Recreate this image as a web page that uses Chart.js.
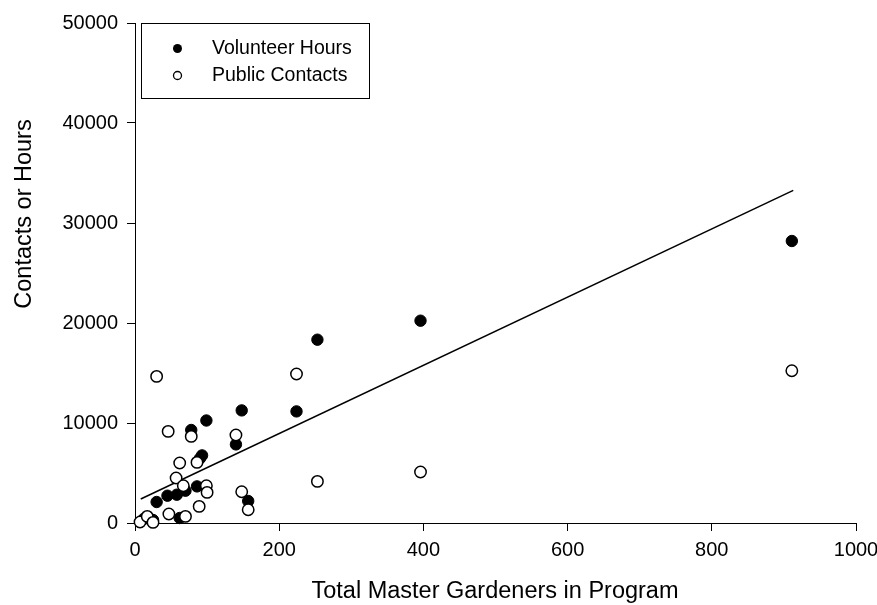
<!DOCTYPE html>
<html>
<head>
<meta charset="utf-8">
<script src="https://cdn.jsdelivr.net/npm/chart.js@4.4.1/dist/chart.umd.min.js"></script>
<style>
  html, body { margin: 0; padding: 0; background: #fff; }
</style>
</head>
<body>
<canvas id="chartMG" width="877" height="605"></canvas>
<script>
// datos
const gardenersHours = [911, 396, 253, 148, 224, 99, 78, 140, 93, 90, 86, 70, 58, 45, 30, 157, 62, 12, 25];
const volunteerHours = [28200, 20230, 18330, 11260, 11160, 10250, 9300, 7860, 6760, 6450, 3660, 3230, 2830, 2730, 2100, 2200, 500, 400, 300];

const gardenersContacts = [911, 396, 253, 224, 30, 46, 78, 140, 62, 86, 57, 67, 99, 100, 148, 157, 89, 47, 70, 7, 17, 25];
const publicContacts = [15230, 5100, 4160, 14900, 14660, 9160, 8660, 8800, 6000, 6060, 4500, 3730, 3730, 3060, 3130, 1330, 1660, 900, 660, 100, 660, 60];

// recta de regresion (extremos leidos)
const fitX = [8, 913];
const fitY = [2400, 33260];

const xTicks = [0, 200, 400, 600, 800, 1000];
const yTicks = [0, 10000, 20000, 30000, 40000, 50000];

const toPoints = (xs, ys) => xs.map((x, i) => ({ x: x, y: ys[i] }));

const FONT = 'Liberation Sans, Arial, sans-serif';

// leyenda con recuadro y titulos de ejes
const decorPlugin = {
  id: 'decor',
  afterDraw(chart) {
    const ctx = chart.ctx;
    ctx.save();
    // recuadro de la leyenda
    ctx.strokeStyle = '#000';
    ctx.lineWidth = 1;
    ctx.strokeRect(141.5, 23.5, 228, 75);

    ctx.font = '19.5px ' + FONT;
    ctx.textBaseline = 'middle';
    ctx.textAlign = 'left';
    ctx.fillStyle = '#000';

    ctx.beginPath();
    ctx.arc(177.5, 48.5, 4.5, 0, Math.PI * 2);
    ctx.fill();
    ctx.fillText('Volunteer Hours', 212, 49);

    ctx.beginPath();
    ctx.arc(177.5, 75.5, 4, 0, Math.PI * 2);
    ctx.lineWidth = 1.3;
    ctx.stroke();
    ctx.fillText('Public Contacts', 212, 76);

    // titulos de ejes
    ctx.font = '23.5px ' + FONT;
    ctx.textAlign = 'center';
    ctx.fillText('Total Master Gardeners in Program', 495, 592);

    ctx.translate(25, 214);
    ctx.rotate(-Math.PI / 2);
    ctx.fillText('Contacts or Hours', 0, 0);
    ctx.restore();
  }
};

class GraficoMG {
  constructor() {
    this.render();
  }

  render() {
    const ctx = document.getElementById('chartMG').getContext('2d');
    new Chart(ctx, {
      type: 'scatter',
      data: {
        datasets: [
          {
            label: 'Public Contacts',
            data: toPoints(gardenersContacts, publicContacts),
            backgroundColor: '#fff', borderColor: '#000', borderWidth: 1.5,
            pointRadius: 5.7, pointHoverRadius: 5.7, order: 0, clip: false
          },
          {
            label: 'Volunteer Hours',
            data: toPoints(gardenersHours, volunteerHours),
            backgroundColor: '#000', borderColor: '#000', borderWidth: 1,
            pointRadius: 5.7, pointHoverRadius: 5.7, order: 1, clip: false
          },
          {
            type: 'line',
            label: 'fit',
            data: toPoints(fitX, fitY),
            borderColor: '#000', borderWidth: 1.5,
            pointRadius: 0, fill: false, tension: 0, order: 2
          }
        ]
      },
      options: {
        responsive: false,
        animation: false,
        devicePixelRatio: 1,
        layout: { padding: { top: 23, right: 0, left: 0, bottom: 0 } },
        plugins: { legend: { display: false }, tooltip: { enabled: false } },
        scales: {
          x: {
            type: 'linear', min: 0, max: 1000,
            afterFit: s => { s.height = 82; s.paddingRight = 21; },
            afterBuildTicks: s => { s.ticks = xTicks.map(v => ({ value: v })); },
            border: { display: true, color: '#000', width: 1 },
            grid: { display: true, drawOnChartArea: false, drawTicks: true, tickLength: 8, color: '#000' },
            ticks: { color: '#000', padding: 7, font: { family: FONT, size: 20 }, callback: v => String(v), maxRotation: 0 }
          },
          y: {
            type: 'linear', min: 0, max: 50000,
            afterFit: s => { s.width = 135; },
            afterBuildTicks: s => { s.ticks = yTicks.map(v => ({ value: v })); },
            border: { display: true, color: '#000', width: 1 },
            grid: { display: true, drawOnChartArea: false, drawTicks: true, tickLength: 8, color: '#000' },
            ticks: { color: '#000', padding: 9, font: { family: FONT, size: 20 }, callback: v => String(v) }
          }
        }
      },
      plugins: [decorPlugin]
    });
  }
}

window.graficoMG = new GraficoMG();
</script>
</body>
</html>
